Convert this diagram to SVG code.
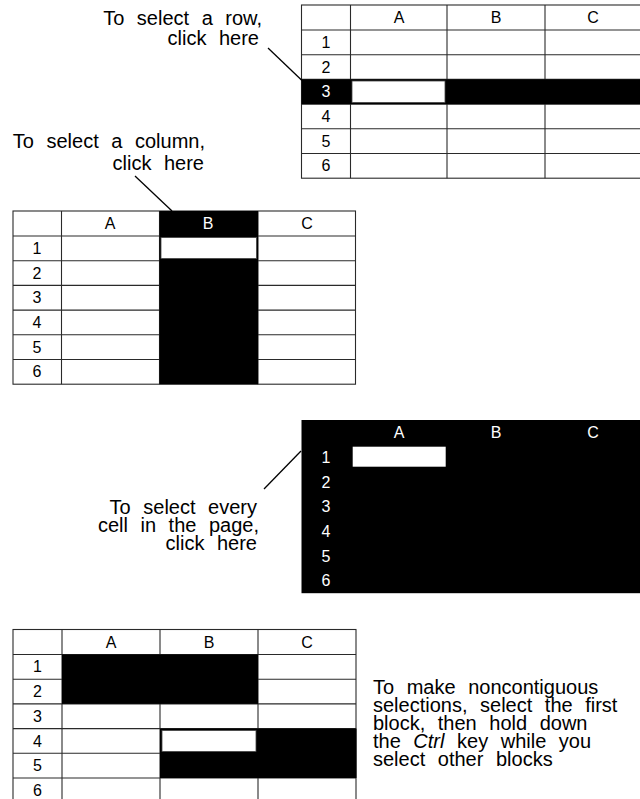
<svg xmlns="http://www.w3.org/2000/svg" width="640" height="799" viewBox="0 0 640 799">
<style>
  .lbl { font-family: "Liberation Sans", Arial, Helvetica, sans-serif; font-size: 20px; word-spacing: 7px; fill: #000; }
  .end { text-anchor: end; }
  .hd { font-family: "Liberation Sans", Arial, Helvetica, sans-serif; font-size: 16px; text-anchor: middle; fill: #000; }
  .inv { fill: #fff; }
  .grid line { stroke: #2a2a2a; stroke-width: 1.1; }
  .border { fill: #fff; stroke: #2a2a2a; stroke-width: 1.1; }
  .blk { fill: #000; }
  .cur { fill: #fff; stroke: #444; stroke-width: 0.8; }
  .lead { stroke: #000; stroke-width: 1.3; fill: none; }
</style>

<!-- Grid 1: row selection -->
<g id="grid-row" class="grid">
  <rect class="border" x="301.5" y="5" width="345" height="173.2"/>
  <line x1="350.5" y1="5" x2="350.5" y2="178.2"/>
  <line x1="447" y1="5" x2="447" y2="178.2"/>
  <line x1="545" y1="5" x2="545" y2="178.2"/>
  <line x1="301.5" y1="30" x2="641" y2="30"/>
  <line x1="301.5" y1="54.7" x2="641" y2="54.7"/>
  <line x1="301.5" y1="79.4" x2="641" y2="79.4"/>
  <line x1="301.5" y1="104.1" x2="641" y2="104.1"/>
  <line x1="301.5" y1="128.8" x2="641" y2="128.8"/>
  <line x1="301.5" y1="153.5" x2="641" y2="153.5"/>
  <rect class="blk" x="301.5" y="79.4" width="340" height="24.7"/>
  <rect class="cur" x="352" y="81" width="93" height="21.5"/>
  <text class="hd" x="399" y="23">A</text>
  <text class="hd" x="496" y="23">B</text>
  <text class="hd" x="593" y="23">C</text>
  <text class="hd" x="326" y="47.9">1</text>
  <text class="hd" x="326" y="72.6">2</text>
  <text class="hd inv" x="326" y="97.3">3</text>
  <text class="hd" x="326" y="122">4</text>
  <text class="hd" x="326" y="146.7">5</text>
  <text class="hd" x="326" y="171.4">6</text>
</g>
<g id="label-row">
  <text class="lbl end" x="262" y="25">To select a row,</text>
  <text class="lbl end" x="259" y="45">click here</text>
</g>

<!-- Grid 2: column selection -->
<g id="grid-col" class="grid">
  <rect class="border" x="13" y="211" width="342.5" height="173.2"/>
  <line x1="61.5" y1="211" x2="61.5" y2="384.2"/>
  <line x1="159.5" y1="211" x2="159.5" y2="384.2"/>
  <line x1="258" y1="211" x2="258" y2="384.2"/>
  <line x1="13" y1="236" x2="355.5" y2="236"/>
  <line x1="13" y1="260.7" x2="355.5" y2="260.7"/>
  <line x1="13" y1="285.4" x2="355.5" y2="285.4"/>
  <line x1="13" y1="310.1" x2="355.5" y2="310.1"/>
  <line x1="13" y1="334.8" x2="355.5" y2="334.8"/>
  <line x1="13" y1="359.5" x2="355.5" y2="359.5"/>
  <rect class="blk" x="159.5" y="211" width="98.5" height="173.2"/>
  <rect class="cur" x="161" y="237.5" width="95.5" height="21"/>
  <text class="hd" x="110" y="229">A</text>
  <text class="hd inv" x="208" y="229">B</text>
  <text class="hd" x="307" y="229">C</text>
  <text class="hd" x="37" y="253.9">1</text>
  <text class="hd" x="37" y="278.6">2</text>
  <text class="hd" x="37" y="303.3">3</text>
  <text class="hd" x="37" y="328">4</text>
  <text class="hd" x="37" y="352.7">5</text>
  <text class="hd" x="37" y="377.4">6</text>
</g>
<g id="label-col">
  <text class="lbl end" x="205" y="148">To select a column,</text>
  <text class="lbl end" x="204" y="170">click here</text>
</g>

<!-- Grid 3: select all -->
<g id="grid-all">
  <rect class="blk" x="301.5" y="420" width="340" height="173.2"/>
  <rect x="352.7" y="446.7" width="93" height="20" fill="#fff"/>
  <text class="hd inv" x="399" y="438">A</text>
  <text class="hd inv" x="496" y="438">B</text>
  <text class="hd inv" x="593" y="438">C</text>
  <text class="hd inv" x="326" y="462.9">1</text>
  <text class="hd inv" x="326" y="487.6">2</text>
  <text class="hd inv" x="326" y="512.3">3</text>
  <text class="hd inv" x="326" y="537">4</text>
  <text class="hd inv" x="326" y="561.7">5</text>
  <text class="hd inv" x="326" y="586.4">6</text>
</g>
<g id="label-all">
  <text class="lbl end" x="257" y="514">To select every</text>
  <text class="lbl end" x="259" y="532">cell in the page,</text>
  <text class="lbl end" x="257" y="550">click here</text>
</g>

<!-- Grid 4: noncontiguous -->
<g id="grid-multi" class="grid">
  <rect class="border" x="13" y="629.5" width="343" height="175"/>
  <line x1="62" y1="629.5" x2="62" y2="805"/>
  <line x1="160" y1="629.5" x2="160" y2="805"/>
  <line x1="258" y1="629.5" x2="258" y2="805"/>
  <line x1="13" y1="654.5" x2="356" y2="654.5"/>
  <line x1="13" y1="679.2" x2="356" y2="679.2"/>
  <line x1="13" y1="703.9" x2="356" y2="703.9"/>
  <line x1="13" y1="728.6" x2="356" y2="728.6"/>
  <line x1="13" y1="753.3" x2="356" y2="753.3"/>
  <line x1="13" y1="778" x2="356" y2="778"/>
  <rect class="blk" x="62" y="654.5" width="196" height="49.4"/>
  <rect class="blk" x="160" y="728.6" width="196.5" height="49.4"/>
  <rect class="cur" x="162" y="730.5" width="94" height="21"/>
  <text class="hd" x="111" y="647.5">A</text>
  <text class="hd" x="209" y="647.5">B</text>
  <text class="hd" x="307" y="647.5">C</text>
  <text class="hd" x="37.5" y="672.4">1</text>
  <text class="hd" x="37.5" y="697.1">2</text>
  <text class="hd" x="37.5" y="721.8">3</text>
  <text class="hd" x="37.5" y="746.5">4</text>
  <text class="hd" x="37.5" y="771.2">5</text>
  <text class="hd" x="37.5" y="795.9">6</text>
</g>
<g id="label-multi">
  <text class="lbl" x="373" y="694">To make noncontiguous</text>
  <text class="lbl" x="373" y="712">selections, select the first</text>
  <text class="lbl" x="373" y="730">block, then hold down</text>
  <text class="lbl" x="373" y="748">the <tspan font-style="italic">Ctrl</tspan> key while you</text>
  <text class="lbl" x="373" y="766">select other blocks</text>
</g>

<!-- Connectors -->
<g id="connectors">
  <line class="lead" x1="268" y1="48" x2="302" y2="80.5"/>
  <line class="lead" x1="135" y1="176" x2="172" y2="211"/>
  <line class="lead" x1="301" y1="451" x2="264" y2="489"/>
</g>
</svg>
